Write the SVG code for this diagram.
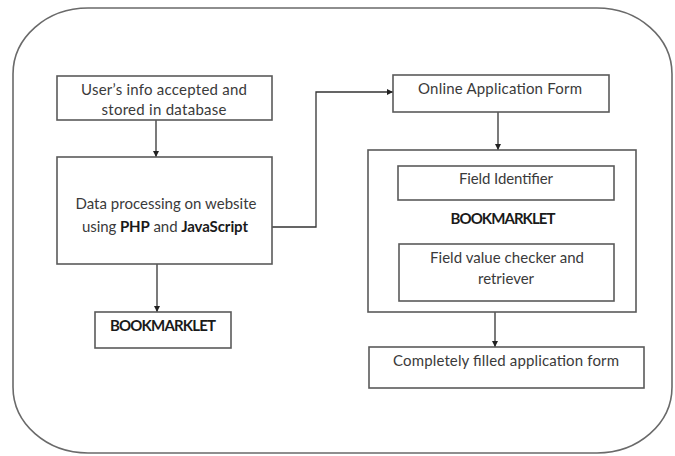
<svg xmlns="http://www.w3.org/2000/svg" width="675" height="456" viewBox="0 0 675 456">
  <style>
    .frame { fill: none; stroke: #6a6a6a; stroke-width: 1.6; }
    .box { fill: #ffffff; stroke: #5a5a5a; stroke-width: 1.6; }
    .lbl { font-family: Lato, "Liberation Sans", sans-serif; font-size: 15px; fill: #3a3a3a; text-anchor: middle; }
    .bold { font-weight: bold; fill: #1a1a1a; }
    .wire { fill: none; stroke: #333333; stroke-width: 1.3; }
  </style>
  <defs>
    <marker id="arrow" viewBox="0 0 10 10" refX="10" refY="5" markerWidth="6" markerHeight="6" orient="auto" markerUnits="userSpaceOnUse">
      <path d="M0,0 L10,5 L0,10 Z" fill="#222222"/>
    </marker>
  </defs>

  <rect width="675" height="456" fill="#ffffff"/>

  <!-- outer rounded frame -->
  <rect class="frame" x="13" y="8" width="659" height="445" rx="75" ry="66"/>

  <!-- connectors -->
  <g id="connectors">
    <path class="wire" d="M156,120 V157" marker-end="url(#arrow)"/>
    <path class="wire" d="M157,264 V312" marker-end="url(#arrow)"/>
    <path class="wire" d="M272,227 H316 V92 H393" marker-end="url(#arrow)"/>
    <path class="wire" d="M498,112 V150" marker-end="url(#arrow)"/>
    <path class="wire" d="M495,312 V347" marker-end="url(#arrow)"/>
  </g>

  <g id="user-info">
    <rect class="box" x="57" y="76" width="215" height="44"/>
    <text class="lbl" x="164" y="95" textLength="166" lengthAdjust="spacing">User’s info accepted and</text>
    <text class="lbl" x="164" y="115" textLength="125" lengthAdjust="spacing">stored in database</text>
  </g>

  <g id="data-processing">
    <rect class="box" x="57" y="157" width="215" height="107"/>
    <text class="lbl" x="166" y="209" textLength="181" lengthAdjust="spacing">Data processing on website</text>
    <text class="lbl" x="165" y="232" textLength="166" lengthAdjust="spacing">using <tspan class="bold">PHP</tspan> and <tspan class="bold">JavaScript</tspan></text>
  </g>

  <g id="bookmarklet-left">
    <rect class="box" x="95" y="312" width="136" height="36"/>
    <text class="lbl bold" x="163" y="331" textLength="106" lengthAdjust="spacing">BOOKMARKLET</text>
  </g>

  <g id="online-form">
    <rect class="box" x="393" y="75" width="216" height="37"/>
    <text class="lbl" x="500" y="94" textLength="164" lengthAdjust="spacing">Online Application Form</text>
  </g>

  <g id="bookmarklet-right">
    <rect class="box" x="368" y="150" width="268" height="162"/>
    <text class="lbl bold" x="503" y="224" textLength="105" lengthAdjust="spacing">BOOKMARKLET</text>
  </g>

  <g id="field-identifier">
    <rect class="box" x="398" y="166" width="216" height="34"/>
    <text class="lbl" x="506" y="184" textLength="94" lengthAdjust="spacing">Field Identifier</text>
  </g>

  <g id="field-checker">
    <rect class="box" x="399" y="244" width="215" height="57"/>
    <text class="lbl" x="507" y="263" textLength="154" lengthAdjust="spacing">Field value checker and</text>
    <text class="lbl" x="506" y="284" textLength="56" lengthAdjust="spacing">retriever</text>
  </g>

  <g id="completed-form">
    <rect class="box" x="369" y="347" width="275" height="41"/>
    <text class="lbl" x="506" y="366" textLength="226" lengthAdjust="spacing">Completely filled application form</text>
  </g>
</svg>
